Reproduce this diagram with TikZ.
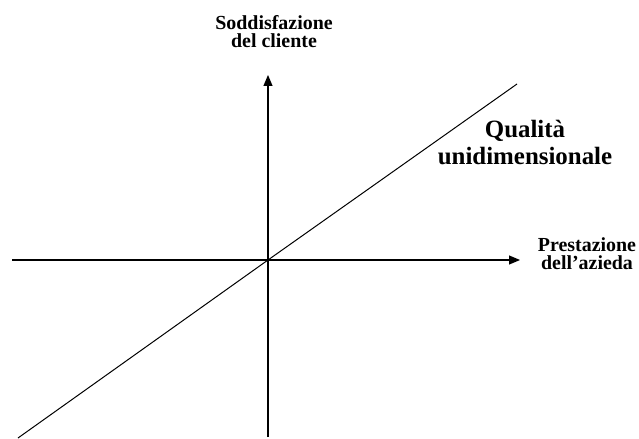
\documentclass[tikz,border=0pt]{standalone}
\usepackage{fontspec}
\setmainfont{Liberation Serif}
\usetikzlibrary{arrows.meta}

\begin{document}
\begin{tikzpicture}[x=1bp, y=-1bp,
    axis/.style={line width=1.1bp, -{Triangle[length=11bp, width=9bp]}},
    lab/.style={font=\bfseries\fontsize{20}{19}\selectfont, align=center, inner sep=0pt},
    biglab/.style={font=\bfseries\fontsize{25}{28}\selectfont, align=center, inner sep=0pt}]
  \useasboundingbox (0,0) rectangle (639,439);

  % Assi
  \coordinate (O) at (268,260);
  \coordinate (xstart) at (12,260);
  \coordinate (xend) at (520,260);
  \coordinate (ystart) at (268,437);
  \coordinate (yend) at (268,75);
  \draw[axis] (xstart) -- (xend);
  \draw[axis] (ystart) -- (yend);

  % Retta della qualita'
  \coordinate (rstart) at (18,438);
  \coordinate (rend) at (517,84);
  \draw[line width=1bp] (rstart) -- (O) -- (rend);

  % Etichette (ancorate alla linea di base dell'ultima riga)
  \node[lab, anchor=base] (ylab) at (274,48) {Soddisfazione\\del cliente};
  \node[lab, anchor=base] (xlab) at (587,270) {Prestazione\\dell’azieda};
  \node[biglab, anchor=base] (qlab) at (525,165) {Qualità\\unidimensionale};
\end{tikzpicture}
\end{document}
